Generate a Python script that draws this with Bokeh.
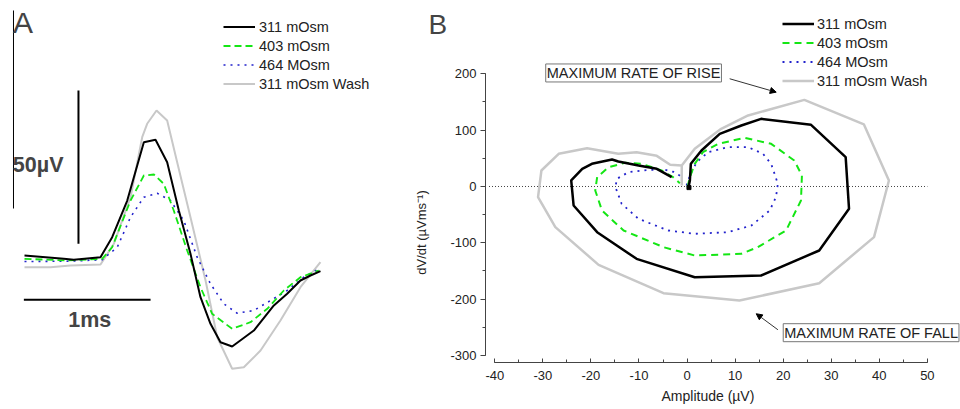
import math
from bokeh.plotting import figure
from bokeh.layouts import row
from bokeh.models import (Legend, LegendItem, Label, Arrow, NormalHead, SingleIntervalTicker,
                          Title, PrintfTickFormatter)
from bokeh.embed import file_html
from bokeh.resources import INLINE

# ---------------- Panel A: waveforms (time in ms, amplitude in µV) ----------------
A_T_311 = [0, 0.310, 0.389, 0.600, 0.692, 0.811, 0.942, 1.034, 1.126, 1.218, 1.310, 1.389,
           1.468, 1.547, 1.639, 1.810, 1.968, 2.073, 2.178, 2.257, 2.336]
A_V_311 = [0.98, -0.10, -0.42, 0.42, 6.94, 18.91, 37.92, 38.70, 31.40, 15.65, 1.53, -12.62,
           -21.29, -27.29, -28.69, -23.48, -15.32, -11.51, -7.17, -5.54, -4.14]

A_T_403 = [0, 0.337, 0.613, 0.692, 0.837, 0.942, 1.021, 1.099, 1.178, 1.284, 1.389, 1.481,
           1.639, 1.784, 1.916, 2.047, 2.178, 2.323]
A_V_403 = [-0.10, -0.65, -0.10, 3.68, 18.91, 27.06, 27.39, 24.36, 15.65, 2.61, -9.36, -18.03,
           -22.92, -20.77, -16.40, -10.43, -6.10, -3.91]

A_T_464 = [0, 0.337, 0.613, 0.732, 0.837, 0.942, 1.047, 1.152, 1.257, 1.363, 1.468, 1.573,
           1.679, 1.810, 1.942, 2.073, 2.204, 2.323]
A_V_464 = [-0.98, -0.88, -0.42, 3.68, 13.47, 19.99, 21.29, 18.91, 12.39, 0.42, -8.25, -14.77,
           -17.84, -16.95, -13.69, -10.43, -6.10, -3.36]

A_T_WASH = [0, 0.205, 0.363, 0.600, 0.705, 0.837, 0.929, 0.968, 1.042, 1.126, 1.205, 1.310,
            1.429, 1.521, 1.639, 1.731, 1.863, 2.020, 2.178, 2.336]
A_V_WASH = [-2.84, -2.84, -2.28, -1.96, 4.79, 19.99, 39.55, 43.92, 48.26, 45.0, 31.40, 13.47,
            -7.17, -25.66, -35.96, -35.44, -30.0, -20.22, -9.36, -1.21]

SCALE_MS = 1.0      # horizontal scale bar length (ms)
SCALE_UV = 50.0     # vertical scale bar length (µV)

# ---------------- Panel B: phase plots (amplitude µV vs dV/dt µV/ms) ----------------
B_X_311 = [0.24, 0.59, 0.79, 3.0, 6.8, 11.3, 15.4, 25.8, 33.0, 33.7, 27.5, 15.4, 1.6, -10.5,
           -18.7, -23.6, -24.1, -21.8, -19.8, -15.6, -14.3, -10.1, -6.3, -3.2]
B_Y_311 = [-4.1, 10.7, 40.2, 63.9, 93.5, 108.3, 120.1, 109.5, 52.1, -39.6, -113.6, -158.0,
           -161.0, -128.4, -81.1, -33.7, 10.7, 31.4, 40.2, 47.9, 44.4, 37.3, 31.4, 16.6]

B_X_403 = [0.1, 0.6, 1.6, 3.3, 6.5, 12.0, 17.5, 22.3, 23.9, 23.7, 20.6, 14.7, 11.3, 1.6, -4.9,
           -13.2, -17.7, -19.1, -18.7, -16.3, -12.9, -9.4, -5.3, -2.9, -1.5]
B_Y_403 = [-1.2, 16.6, 40.2, 60.9, 75.7, 86.4, 75.7, 46.2, 19.5, -24.9, -78.1, -107.7, -119.5,
           -122.5, -107.7, -78.1, -42.6, -7.1, 16.6, 34.3, 42.0, 40.2, 28.4, 16.6, 5.9]

B_X_464 = [-0.1, 0.6, 2.0, 4.4, 8.5, 12.7, 15.8, 17.5, 18.9, 18.5, 17.2, 13.4, 8.5, 1.6, -3.9,
           -10.1, -13.6, -14.9, -14.6, -12.2, -8.0, -4.6, -2.5, -1.1]
B_Y_464 = [1.8, 19.5, 43.2, 60.9, 69.8, 69.8, 58.0, 40.2, 4.7, -18.9, -42.6, -69.2, -81.1,
           -84.0, -78.1, -57.4, -30.8, -1.2, 13.6, 25.4, 29.6, 29.6, 25.4, 16.6]

B_X_WASH = [-1.1, -1.1, 1.6, 7.1, 12.7, 24.4, 36.8, 42.0, 38.9, 27.5, 10.9, -4.9, -18.4, -27.4,
            -31.0, -30.3, -26.7, -20.8, -14.3, -10.5, -6.3, -3.5, -1.1]
B_Y_WASH = [1.8, 37.3, 66.9, 102.4, 126.0, 153.8, 110.1, 10.7, -89.9, -171.6, -202.4, -189.3,
            -139.1, -72.2, -18.9, 28.4, 58.0, 68.0, 58.0, 60.9, 54.4, 38.5, 37.3]

SERIES_NAMES = ["311 mOsm", "403 mOsm", "464 MOsm", "311 mOsm Wash"]

FONT = "Liberation Sans"
GREEN = "#14e614"
BLUE = "#2222cc"
GRAY = "#c8c8c8"

# ================= Panel A =================
pA = figure(width=447, height=409, x_range=(-0.1894, 3.3386), y_range=(-49.23, 84.12),
            x_axis_location=None, y_axis_location=None, output_backend="svg",
            toolbar_location=None, min_border=0)
pA.frame_align = False
pA.outline_line_color = None
pA.grid.visible = False

rAw = pA.line(A_T_WASH, A_V_WASH, line_color=GRAY, line_width=2)
rA4 = pA.line(A_T_464, A_V_464, line_color=BLUE, line_width=1.6, line_dash="2 5")
rA3 = pA.line(A_T_403, A_V_403, line_color=GREEN, line_width=1.8, line_dash="7 4")
rA1 = pA.line(A_T_311, A_V_311, line_color="black", line_width=2)

# scale bars
bar_t0, bar_v0 = -0.005, -13.47
vbar_t, vbar_v0 = 0.426, 4.8
pA.line([bar_t0, bar_t0 + SCALE_MS], [bar_v0, bar_v0], line_color="black", line_width=2)
pA.line([vbar_t, vbar_t], [vbar_v0, vbar_v0 + SCALE_UV], line_color="black", line_width=2)
# stray frame line at the left of panel A
pA.line([-0.0868, -0.0868], [16.3, 80.86], line_color="black", line_width=1)

pA.add_layout(Label(x=-0.09, y=76.85, text="A", text_font=FONT, text_font_size="30px",
                    text_baseline="alphabetic", text_align="left"))
pA.add_layout(Label(x=-0.092, y=30.53, text="50µV", text_font=FONT, text_font_size="21.5px",
                    text_font_style="bold", text_baseline="alphabetic", text_align="left"))
pA.add_layout(Label(x=0.345, y=-19.95, text="1ms", text_font=FONT, text_font_size="21.5px",
                    text_font_style="bold", text_baseline="alphabetic", text_align="left"))

# panel letter "B" and the y title of panel B sit in the area left of B's axis
pA.add_layout(Label(x=3.188, y=76.36, text="B", text_font=FONT, text_font_size="28px",
                    text_baseline="alphabetic", text_align="left"))
pA.add_layout(Label(x=3.133, y=8.48, text="dV/dt (µVms⁻¹)", angle=math.pi / 2,
                    text_font=FONT, text_font_size="13px", text_color="#222",
                    text_align="center", text_baseline="middle"))

legA = Legend(items=[LegendItem(label=SERIES_NAMES[0], renderers=[rA1]),
                     LegendItem(label=SERIES_NAMES[1], renderers=[rA3]),
                     LegendItem(label=SERIES_NAMES[2], renderers=[rA4]),
                     LegendItem(label=SERIES_NAMES[3], renderers=[rAw])],
              location=(223, 316), padding=0, margin=0, spacing=0, glyph_width=32,
              glyph_height=19, label_height=19, label_standoff=4,
              label_text_font=FONT, label_text_font_size="14.5px", label_text_color="#222",
              border_line_color=None, background_fill_alpha=0)
pA.add_layout(legA)

# ================= Panel B =================
pB = figure(width=513, height=409, x_range=(-41.93, 56.89), y_range=(-312.4, 330.1),
            output_backend="svg", toolbar_location=None,
            min_border_left=36, min_border_right=0, min_border_top=0, min_border_bottom=47)
pB.frame_align = False
pB.outline_line_color = None
pB.grid.visible = False

pB.line([-41.2, 50.0], [0, 0], line_color="#444", line_width=1, line_dash="1 2")

rBw = pB.line(B_X_WASH, B_Y_WASH, line_color=GRAY, line_width=2.5)
rB4 = pB.line(B_X_464, B_Y_464, line_color=BLUE, line_width=1.8, line_dash="2 5")
rB3 = pB.line(B_X_403, B_Y_403, line_color=GREEN, line_width=2, line_dash="7 5")
rB1 = pB.line(B_X_311, B_Y_311, line_color="black", line_width=2.5)
pB.square([0.4], [-2.0], size=4, color="black")

for ax in (pB.xaxis, pB.yaxis):
    ax.axis_line_color = "#444"
    ax.major_tick_line_color = "#444"
    ax.minor_tick_line_color = "#444"
    ax.major_label_text_font = FONT
    ax.major_label_text_font_size = "13px"
    ax.major_label_text_color = "#222"
    ax.formatter = PrintfTickFormatter(format="%d")

pB.xaxis.ticker = SingleIntervalTicker(interval=10, num_minor_ticks=2)
pB.xaxis.bounds = (-40, 50)
pB.xaxis.major_tick_in = 4
pB.xaxis.major_tick_out = 0
pB.xaxis.minor_tick_in = 3
pB.xaxis.minor_tick_out = 0
pB.xaxis.major_label_standoff = 8

pB.yaxis.ticker = SingleIntervalTicker(interval=100, num_minor_ticks=2)
pB.yaxis.bounds = (-300, 200)
pB.yaxis.major_tick_in = 0
pB.yaxis.major_tick_out = 5
pB.yaxis.minor_tick_in = 0
pB.yaxis.minor_tick_out = 3
pB.yaxis.major_label_standoff = 4

pB.add_layout(Title(text="Amplitude (µV)", align="left", offset=176, standoff=7,
                    text_font=FONT, text_font_size="14px", text_font_style="normal",
                    text_color="#222"), "below")

pB.add_layout(Label(x=-29.40, y=201.5, text="MAXIMUM RATE OF RISE", text_font=FONT,
                    text_font_size="14.5px", text_color="#222", text_baseline="middle",
                    text_align="left", border_line_color="#777", background_fill_color="white",
                    padding=1))
pB.add_layout(Label(x=20.01, y=-259.5, text="MAXIMUM RATE OF FALL", text_font=FONT,
                    text_font_size="14.5px", text_color="#222", text_baseline="middle",
                    text_align="left", border_line_color="#777", background_fill_color="white",
                    padding=1))

pB.add_layout(Arrow(end=NormalHead(size=6, fill_color="black", line_color="black"),
                    x_start=8.87, y_start=191.2, x_end=18.55, y_end=167.4,
                    line_color="#333", line_width=1))
pB.add_layout(Arrow(end=NormalHead(size=6, fill_color="black", line_color="black"),
                    x_start=18.9, y_start=-254.3, x_end=14.4, y_end=-225.9,
                    line_color="#333", line_width=1))

legB = Legend(items=[LegendItem(label=SERIES_NAMES[0], renderers=[rB1]),
                     LegendItem(label=SERIES_NAMES[1], renderers=[rB3]),
                     LegendItem(label=SERIES_NAMES[2], renderers=[rB4]),
                     LegendItem(label=SERIES_NAMES[3], renderers=[rBw])],
              location=(297, 272), padding=0, margin=0, spacing=0, glyph_width=32,
              glyph_height=19, label_height=19, label_standoff=3,
              label_text_font=FONT, label_text_font_size="14.5px", label_text_color="#222",
              border_line_color=None, background_fill_alpha=0)
pB.add_layout(legB)

layout = row(pA, pB)
open("out.html", "w").write(file_html(layout, INLINE))
